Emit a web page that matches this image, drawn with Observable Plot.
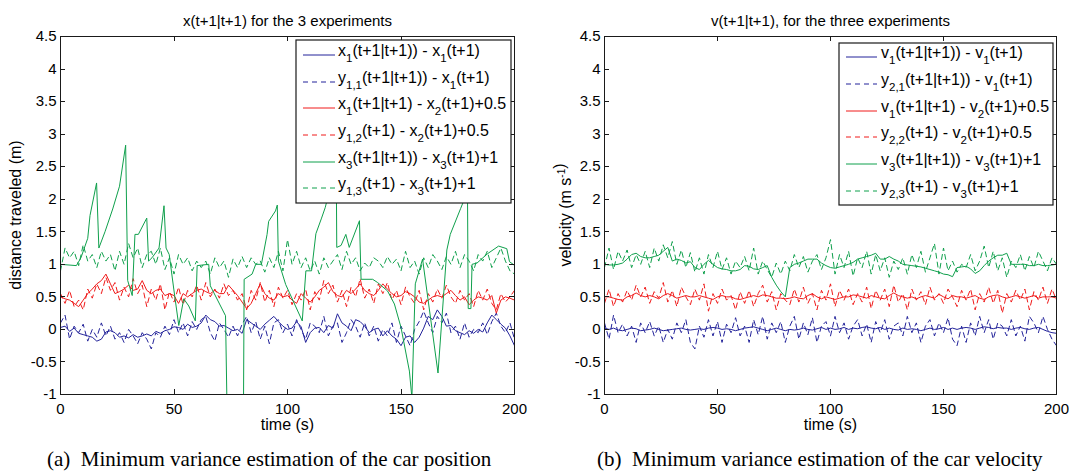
<!DOCTYPE html>
<html>
<head>
<meta charset="utf-8">
<script src="https://cdn.jsdelivr.net/npm/d3@7"></script>
<script src="https://cdn.jsdelivr.net/npm/@observablehq/plot@0.6"></script>
<style>
  html, body { margin: 0; padding: 0; background: #fff; }
  body { width: 1069px; height: 475px; position: relative; overflow: hidden; font-family: "Liberation Sans", Arial, sans-serif; }
  .panel { position: absolute; top: 0; }
  .cap { position: absolute; top: 449px; font-family: "Liberation Serif", "Times New Roman", serif; font-size: 21px; line-height: 1; white-space: nowrap; color: #000; }
</style>
</head>
<body>
<div id="panelA" class="panel" style="left:0px"></div>
<div id="panelB" class="panel" style="left:534px"></div>
<div class="cap" style="left:47px">(a)&nbsp; Minimum variance estimation of the car position</div>
<div class="cap" style="left:597px">(b)&nbsp; Minimum variance estimation of the car velocity</div>
<script>
// ---------------- data ----------------
const time = d3.range(0, 201, 2);            // sample times (s)
const xTicks = [0, 50, 100, 150, 200];
const yTicks = [-1, -0.5, 0, 0.5, 1, 1.5, 2, 2.5, 3, 3.5, 4, 4.5];

// (a) position, experiment 1 (estimate, solid blue)
const posX1 = [
  0.03, 0.05, -0.03, 0.02, -0.06, -0.08, -0.10, -0.12, -0.18, -0.15,
  -0.04, -0.02, -0.05, -0.12, -0.10, -0.13, -0.08, -0.12, -0.10, -0.07,
  -0.10, -0.03, -0.06, -0.02, 0.00, 0.04, 0.03, 0.00, 0.08, 0.03,
  0.05, 0.10, 0.22, 0.15, 0.12, 0.05, 0.06, 0.02, -0.02, 0.00,
  -0.06, 0.15, 0.10, 0.05, 0.00, 0.08, 0.14, 0.20, 0.12, 0.05,
  0.00, 0.02, 0.12, 0.04, -0.20, -0.05, 0.02, 0.03, -0.05, 0.06,
  0.02, 0.24, 0.10, 0.05, -0.02, 0.15, 0.12, 0.05, -0.05, 0.00,
  0.02, -0.10, -0.02, -0.10, -0.15, -0.25, -0.12, -0.10, -0.20, -0.12,
  0.02, 0.20, 0.15, 0.30, 0.20, 0.05, 0.06, -0.02, -0.05, -0.08,
  -0.02, -0.06, 0.00, -0.04, 0.10, 0.22, 0.15, 0.08, 0.02, -0.10,
  -0.25];
// (a) measurement y11 (dashed blue)
const posY11 = [
  0.10, 0.22, -0.15, 0.05, -0.05, 0.08, -0.18, 0.00, -0.12, 0.10,
  -0.10, 0.05, -0.15, -0.05, -0.20, 0.00, -0.10, -0.22, -0.05, -0.15,
  -0.30, -0.05, -0.12, 0.05, -0.08, 0.15, -0.05, 0.10, -0.10, 0.12,
  0.00, 0.15, 0.20, -0.05, -0.18, 0.10, 0.00, -0.12, 0.05, -0.10,
  0.08, 0.20, -0.05, 0.12, -0.15, 0.05, -0.22, 0.10, 0.15, -0.05,
  0.08, -0.10, 0.15, 0.00, -0.15, 0.10, 0.05, -0.05, 0.20, -0.10,
  0.05, 0.10, -0.20, -0.05, 0.15, 0.05, -0.12, 0.10, -0.10, 0.05,
  -0.18, 0.00, -0.10, 0.10, -0.20, 0.05, -0.10, -0.25, 0.00, 0.12,
  0.28, 0.10, -0.05, 0.20, 0.10, 0.25, -0.05, 0.05, -0.15, 0.10,
  -0.12, 0.00, -0.05, 0.10, -0.08, 0.12, 0.25, 0.05, -0.05, 0.10,
  -0.15];
// (a) experiment 2 estimate + 0.5 (solid red)
const posX2 = [
  0.50, 0.47, 0.45, 0.40, 0.35, 0.45, 0.55, 0.62, 0.70, 0.75,
  0.85, 0.70, 0.55, 0.58, 0.62, 0.68, 0.60, 0.62, 0.75, 0.60,
  0.55, 0.60, 0.62, 0.52, 0.55, 0.52, 0.40, 0.55, 0.50, 0.55,
  0.60, 0.62, 0.58, 0.55, 0.60, 0.55, 0.55, 0.68, 0.60, 0.52,
  0.42, 0.32, 0.40, 0.55, 0.70, 0.55, 0.48, 0.45, 0.55, 0.50,
  0.52, 0.45, 0.40, 0.55, 0.48, 0.42, 0.50, 0.60, 0.65, 0.72,
  0.58, 0.52, 0.50, 0.60, 0.55, 0.62, 0.70, 0.60, 0.55, 0.52,
  0.60, 0.70, 0.62, 0.55, 0.50, 0.52, 0.58, 0.55, 0.50, 0.42,
  0.40, 0.45, 0.50, 0.52, 0.50, 0.55, 0.60, 0.52, 0.45, 0.50,
  0.38, 0.45, 0.50, 0.48, 0.45, 0.52, 0.25, 0.45, 0.50, 0.48,
  0.45];
// (a) measurement y12 + 0.5 (dashed red)
const posY12 = [
  0.55, 0.40, 0.60, 0.35, 0.45, 0.30, 0.62, 0.48, 0.70, 0.55,
  0.80, 0.60, 0.72, 0.45, 0.65, 0.50, 0.78, 0.55, 0.68, 0.35,
  0.62, 0.45, 0.70, 0.30, 0.58, 0.42, 0.65, 0.38, 0.60, 0.50,
  0.68, 0.45, 0.72, 0.50, 0.62, 0.48, 0.70, 0.52, 0.60, 0.45,
  0.55, 0.30, 0.60, 0.45, 0.72, 0.42, 0.60, 0.35, 0.65, 0.48,
  0.60, 0.38, 0.55, 0.45, 0.62, 0.30, 0.58, 0.45, 0.75, 0.55,
  0.68, 0.42, 0.60, 0.35, 0.65, 0.50, 0.78, 0.48, 0.62, 0.40,
  0.70, 0.55, 0.72, 0.45, 0.60, 0.38, 0.65, 0.50, 0.40, 0.60,
  0.30, 0.55, 0.42, 0.62, 0.48, 0.68, 0.50, 0.40, 0.60, 0.45,
  0.55, 0.35, 0.60, 0.45, 0.62, 0.40, 0.30, 0.55, 0.42, 0.50,
  0.60];
// (a) experiment 3 estimate + 1 (solid green), vertices at their own times
const posX3Time = [0, 7, 9, 10.5, 12, 13, 15.9, 16.9, 19.6, 23, 26, 28.7, 29.6, 31.6, 32.8, 34.3, 38, 38.8, 40.3, 43.4,
  45.6, 46.5, 47.9, 49.9, 52.1, 54.3, 56.5, 59.4, 60.2, 65.3, 66, 72.7, 73.4, 80.6, 80.9, 84.4, 86, 88.5, 91, 91.7,
  94.7, 95.5, 96, 99.2, 106.5, 108.1, 110.6, 112.5, 115, 116.6, 119, 121.5, 121.7, 123.6, 125.7, 127.2, 131.7, 132.4, 137.5, 139.7,
  144.1, 147.1, 150, 153.7, 154.8, 156.3, 159.5, 166.3, 170.2, 171.7, 176.3, 178.5, 179.3, 179.6, 180.8, 181.3, 183.5, 188, 193, 196.6,
  197.8, 199.4, 200];
const posX3 = [1.0, 0.98, 1.1, 1.25, 1.4, 1.75, 2.25, 1.25, 1.5, 1.85, 2.2, 2.83, 0.75, 0.52, 1.46, 1.46, 1.71, 1.05, 1.1, 1.25,
  1.9, 1.25, 1.15, 0.62, 0.06, 0.47, 0.36, 0.13, 0.98, 1.0, 0.67, 0.21, -1.3, -1.3, 0.77, 0.85, 1.0, 1.0, 1.46, 1.66,
  1.82, 1.91, 1.05, 0.69, 0.13, 0.9, 0.9, 1.47, 1.71, 1.87, 2.2, 2.4, 1.26, 1.29, 1.46, 1.26, 1.67, 0.77, 0.77, 0.72,
  0.59, 0.39, 0.03, -0.64, -1.05, 0.7, 1.08, -0.67, 1.22, 1.46, 1.86, 2.05, 2.1, 0.32, 0.32, 1.0, 1.02, 1.16, 1.28, 1.24,
  1.04, 1.0, 0.98];
// (a) measurement y13 + 1 (dashed green)
const posY13 = [
  0.90, 1.25, 1.10, 1.20, 0.98, 1.30, 1.05, 1.15, 0.95, 1.20,
  1.05, 1.15, 0.90, 1.20, 1.00, 1.32, 1.10, 1.25, 0.95, 1.15,
  1.20, 1.00, 1.25, 0.92, 1.10, 0.85, 1.15, 1.00, 1.10, 0.90,
  1.05, 0.95, 1.05, 0.85, 1.10, 0.95, 1.05, 0.80, 1.08, 0.95,
  1.12, 0.95, 1.10, 1.00, 1.05, 0.88, 1.10, 0.95, 1.20, 0.90,
  1.38, 1.00, 1.20, 0.95, 1.10, 0.90, 1.05, 0.85, 1.10, 0.95,
  1.05, 1.15, 0.92, 1.20, 1.00, 1.10, 0.90, 1.02, 0.95, 1.10,
  1.05, 0.95, 1.12, 1.00, 1.08, 0.90, 1.20, 0.95, 1.05, 0.85,
  1.10, 0.95, 1.15, 1.05, 0.92, 1.12, 1.00, 1.20, 0.95, 1.15,
  1.05, 0.90, 1.15, 1.05, 1.20, 0.95, 1.10, 1.25, 1.05, 0.90,
  0.85];

// (b) velocity, experiment 1 estimate (solid blue)
const velV1 = [
  0.02, 0.00, 0.02, -0.01, -0.02, 0.00, 0.02, 0.01, -0.02, -0.01,
  0.00, 0.02, 0.00, -0.02, -0.01, 0.00, 0.01, 0.02, 0.00, -0.01,
  0.00, 0.01, 0.00, 0.02, 0.03, 0.02, 0.00, 0.01, 0.00, -0.02,
  0.00, 0.02, 0.03, 0.04, 0.02, 0.00, -0.02, 0.00, 0.02, 0.00,
  -0.02, 0.00, -0.01, 0.00, 0.02, 0.00, -0.01, 0.01, 0.03, 0.00,
  0.02, 0.00, 0.01, 0.03, 0.00, 0.02, 0.01, 0.03, 0.04, 0.02,
  0.01, 0.03, 0.00, 0.02, 0.00, -0.01, 0.02, 0.00, 0.01, 0.00,
  -0.02, 0.00, 0.02, 0.00, 0.01, 0.03, 0.00, 0.02, 0.00, 0.02,
  0.03, 0.02, 0.00, 0.02, 0.04, 0.03, 0.01, 0.03, 0.02, 0.02,
  0.00, 0.02, 0.03, 0.01, 0.00, 0.02, 0.03, 0.00, -0.03, -0.05,
  -0.06];
// (b) measurement y21 (dashed blue)
const velY21 = [
  0.10, -0.15, 0.22, -0.05, 0.08, -0.10, 0.05, -0.20, 0.10, -0.05,
  0.12, -0.10, 0.05, -0.20, 0.00, -0.15, 0.10, -0.05, 0.15, -0.20,
  -0.30, 0.05, -0.12, 0.15, -0.10, 0.12, -0.20, 0.08, -0.05, 0.18,
  -0.10, 0.05, -0.20, 0.15, -0.08, 0.20, -0.15, 0.10, -0.05, 0.12,
  -0.20, 0.05, 0.20, -0.15, 0.10, -0.08, 0.18, -0.20, 0.05, 0.12,
  -0.10, 0.20, -0.05, 0.10, -0.15, 0.05, 0.15, -0.10, 0.08, -0.20,
  0.12, -0.05, 0.15, -0.15, 0.05, 0.10, -0.10, 0.20, -0.05, 0.10,
  -0.20, 0.05, 0.15, -0.10, 0.10, -0.05, 0.18, -0.15, -0.25, 0.05,
  -0.20, 0.10, -0.10, 0.20, -0.05, 0.15, -0.15, 0.10, 0.05, -0.10,
  0.15, -0.10, 0.05, -0.18, 0.20, 0.10, -0.05, 0.20, 0.00, -0.15,
  -0.25];
// (b) experiment 2 estimate + 0.5 (solid red)
const velV2 = [
  0.50, 0.50, 0.48, 0.46, 0.45, 0.50, 0.52, 0.56, 0.52, 0.50,
  0.52, 0.50, 0.47, 0.52, 0.55, 0.52, 0.48, 0.50, 0.52, 0.50,
  0.50, 0.52, 0.50, 0.48, 0.46, 0.50, 0.52, 0.50, 0.50, 0.47,
  0.46, 0.48, 0.50, 0.52, 0.50, 0.53, 0.52, 0.50, 0.48, 0.48,
  0.47, 0.48, 0.50, 0.48, 0.47, 0.52, 0.55, 0.50, 0.47, 0.50,
  0.48, 0.46, 0.48, 0.50, 0.50, 0.53, 0.52, 0.50, 0.48, 0.52,
  0.50, 0.48, 0.47, 0.52, 0.56, 0.52, 0.50, 0.48, 0.50, 0.47,
  0.50, 0.52, 0.50, 0.48, 0.54, 0.50, 0.47, 0.52, 0.50, 0.50,
  0.48, 0.50, 0.52, 0.48, 0.46, 0.50, 0.52, 0.53, 0.50, 0.48,
  0.50, 0.52, 0.50, 0.48, 0.50, 0.52, 0.48, 0.50, 0.50, 0.50,
  0.48];
// (b) measurement y22 + 0.5 (dashed red)
const velY22 = [
  0.40, 0.62, 0.35, 0.55, 0.42, 0.60, 0.45, 0.68, 0.50, 0.65,
  0.40, 0.58, 0.48, 0.72, 0.42, 0.60, 0.35, 0.65, 0.50, 0.38,
  0.62, 0.45, 0.70, 0.28, 0.55, 0.40, 0.62, 0.45, 0.52, 0.30,
  0.58, 0.40, 0.60, 0.35, 0.55, 0.68, 0.42, 0.58, 0.30, 0.55,
  0.45, 0.38, 0.62, 0.42, 0.65, 0.40, 0.55, 0.30, 0.60, 0.45,
  0.70, 0.35, 0.60, 0.45, 0.62, 0.38, 0.55, 0.42, 0.65, 0.32,
  0.60, 0.45, 0.62, 0.35, 0.68, 0.42, 0.55, 0.30, 0.62, 0.45,
  0.58, 0.38, 0.65, 0.45, 0.55, 0.40, 0.62, 0.50, 0.35, 0.60,
  0.45, 0.62, 0.30, 0.55, 0.42, 0.65, 0.40, 0.60, 0.25, 0.55,
  0.42, 0.60, 0.45, 0.62, 0.30, 0.58, 0.45, 0.65, 0.40, 0.62,
  0.45];
// (b) experiment 3 estimate + 1 (solid green)
const velV3 = [
  1.00, 0.99, 0.99, 1.00, 1.02, 1.08, 1.15, 1.17, 1.12, 1.10,
  1.10, 1.12, 1.14, 1.20, 1.26, 1.05, 1.08, 1.06, 1.02, 1.04,
  0.95, 0.92, 1.00, 1.06, 1.00, 0.95, 0.93, 0.92, 0.90, 0.90,
  0.92, 0.98, 0.97, 0.93, 0.92, 0.95, 0.98, 0.80, 0.68, 0.58,
  0.50, 0.95, 1.00, 1.02, 1.05, 1.08, 1.08, 1.08, 1.02, 0.98,
  0.95, 0.94, 0.96, 0.98, 1.00, 1.03, 1.08, 1.10, 1.12, 1.14,
  1.17, 1.08, 1.08, 1.12, 1.08, 1.05, 1.00, 0.99, 0.98, 0.97,
  0.96, 0.94, 0.92, 0.90, 0.88, 0.85, 0.84, 0.81, 0.95, 0.96,
  0.97, 0.93, 0.86, 0.90, 0.98, 1.05, 1.10, 1.14, 1.14, 1.17,
  1.00, 1.00, 1.00, 1.00, 0.98, 0.98, 1.00, 0.98, 0.98, 0.99,
  1.00];
// (b) measurement y23 + 1 (dashed green)
const velY23 = [
  0.95, 1.25, 0.92, 1.20, 1.05, 1.22, 0.95, 1.15, 1.00, 1.20,
  0.95, 1.25, 1.05, 1.30, 1.10, 1.35, 1.00, 1.22, 0.95, 1.18,
  0.88, 1.10, 0.85, 1.15, 0.95, 1.20, 0.92, 1.10, 0.85, 1.05,
  0.95, 1.12, 0.90, 1.25, 0.85, 1.05, 0.92, 0.80, 1.02, 0.85,
  1.05, 0.90, 1.15, 0.95, 1.12, 0.88, 1.05, 1.15, 0.92, 1.10,
  1.38, 0.85, 1.15, 0.95, 1.20, 0.82, 1.10, 0.95, 1.20, 0.85,
  1.15, 0.90, 1.10, 0.80, 1.05, 0.92, 1.10, 0.85, 1.15, 0.95,
  1.20, 0.88, 1.10, 1.32, 0.85, 1.25, 0.90, 1.05, 0.88, 1.00,
  0.95, 1.15, 0.90, 1.05, 1.28, 0.95, 1.20, 0.90, 1.10, 0.80,
  1.05, 0.95, 1.15, 0.90, 1.12, 0.95, 1.20, 1.05, 0.90, 1.10,
  1.00];

const legendA = [
  "x{1}(t+1|t+1)) - x{1}(t+1)",
  "y{1,1}(t+1|t+1)) - x{1}(t+1)",
  "x{1}(t+1|t+1) - x{2}(t+1)+0.5",
  "y{1,2}(t+1) - x{2}(t+1)+0.5",
  "x{3}(t+1|t+1)) - x{3}(t+1)+1",
  "y{1,3}(t+1) - x{3}(t+1)+1"
];
const legendB = [
  "v{1}(t+1|t+1)) - v{1}(t+1)",
  "y{2,1}(t+1|t+1)) - v{1}(t+1)",
  "v{1}(t+1|t+1) - v{2}(t+1)+0.5",
  "y{2,2}(t+1) - v{2}(t+1)+0.5",
  "v{3}(t+1|t+1)) - v{3}(t+1)+1",
  "y{2,3}(t+1) - v{3}(t+1)+1"
];

// ---------------- styling ----------------
const BLUE = "#23239a", RED = "#f01a1a", GREEN = "#0fa04c";
const DASH = "5,4";
const FONT = "'Liberation Sans', Arial, Helvetica, sans-serif";

function addRichText(sel, spec, size) {
  // spec uses {..} for subscript segments
  const parts = spec.split(/(\{[^}]*\})/).filter(p => p.length);
  let shifted = false;
  parts.forEach(p => {
    const sub = p.startsWith("{");
    const ts = sel.append("tspan").text(sub ? p.slice(1, -1) : p);
    if (sub) { ts.attr("font-size", size * 0.72).attr("dy", size * 0.38); shifted = true; }
    else if (shifted) { ts.attr("dy", -size * 0.38); shifted = false; }
  });
}

function panel(cfg) {
  const chart = Plot.plot({
    width: cfg.width, height: 440,
    marginLeft: cfg.ml, marginRight: cfg.mr, marginTop: 36, marginBottom: 46,
    x: {domain: [0, 200]},
    y: {domain: [-1, 4.5]},
    style: {fontFamily: FONT, fontSize: "15px", color: "#000", background: "#fff", overflow: "visible"},
    marks: [
      ...cfg.series.map(s => Plot.line(s.y, {
        x: s.x, y: s.y, stroke: s.color, strokeWidth: 1,
        strokeDasharray: s.dash ? DASH : null, clip: true, curve: "linear"
      })),
      Plot.frame({stroke: "#1a1a1a", strokeWidth: 1}),
      Plot.axisX({ticks: xTicks, tickSize: 0, tickPadding: 9, tickFormat: d => String(d), label: null, fontSize: 15}),
      Plot.axisY({ticks: yTicks, tickSize: 0, tickPadding: 4, tickFormat: d => String(d), label: null, fontSize: 15}),
      Plot.text([cfg.title], {text: d => d, frameAnchor: "top", dy: -21, fontSize: 15}),
      Plot.text(["time (s)"], {text: d => d, frameAnchor: "bottom", dy: 35, fontSize: 16})
    ]
  });
  document.getElementById(cfg.el).append(chart);

  const svg = d3.select(chart);
  const sx = chart.scale("x"), sy = chart.scale("y");
  const [xl, xr] = sx.range, [yb, yt] = sy.range;
  const tk = svg.append("g").attr("stroke", "#1a1a1a").attr("stroke-width", 1);
  xTicks.forEach(t => {
    const px = Math.round(sx.apply(t)) + 0.5;
    tk.append("line").attr("x1", px).attr("x2", px).attr("y1", yb).attr("y2", yb - 5);
    tk.append("line").attr("x1", px).attr("x2", px).attr("y1", yt).attr("y2", yt + 5);
  });
  yTicks.forEach(v => {
    const py = Math.round(sy.apply(v)) + 0.5;
    tk.append("line").attr("y1", py).attr("y2", py).attr("x1", xl).attr("x2", xl + 5);
    tk.append("line").attr("y1", py).attr("y2", py).attr("x1", xr).attr("x2", xr - 5);
  });

  // y label
  const yl = svg.append("text")
    .attr("transform", `translate(${cfg.ylx},${(yb + yt) / 2}) rotate(-90)`)
    .attr("text-anchor", "middle").attr("font-size", 16).attr("font-family", FONT).attr("fill", "#000");
  cfg.ylabel.forEach(([txt, sup]) => {
    const ts = yl.append("tspan").text(txt);
    if (sup) ts.attr("font-size", 10).attr("dy", -6);
  });

  // legend
  const L = cfg.legend;
  const lg = svg.append("g").attr("font-family", FONT).attr("font-size", 16).attr("text-anchor", "start");
  lg.append("rect").attr("x", L.x).attr("y", L.y).attr("width", L.w).attr("height", L.h)
    .attr("fill", "#fff").attr("stroke", "#1a1a1a").attr("stroke-width", 1.2);
  cfg.series.forEach((s, i) => {
    const ry = L.rows[i];
    lg.append("line").attr("x1", L.lx1).attr("x2", L.lx2).attr("y1", ry).attr("y2", ry)
      .attr("stroke", s.color).attr("stroke-width", 1).attr("stroke-dasharray", s.dash ? DASH : null);
    const t = lg.append("text").attr("x", L.tx).attr("y", ry + 1).attr("fill", "#000").attr("text-anchor", "start");
    addRichText(t, cfg.labels[i], 16);
  });
}

panel({
  el: "panelA", width: 534, ml: 60, mr: 20,
  title: "x(t+1|t+1) for the 3 experiments",
  ylabel: [["distance traveled (m)", false]], ylx: 21,
  labels: legendA,
  series: [
    {x: time, y: posX1, color: BLUE, dash: false},
    {x: time, y: posY11, color: BLUE, dash: true},
    {x: time, y: posX2, color: RED, dash: false},
    {x: time, y: posY12, color: RED, dash: true},
    {x: posX3Time, y: posX3, color: GREEN, dash: false},
    {x: time, y: posY13, color: GREEN, dash: true}
  ],
  legend: {x: 296, y: 40, w: 215, h: 163, lx1: 303, lx2: 335, tx: 338, rows: [55, 82, 108, 135, 162, 188]}
});

panel({
  el: "panelB", width: 535, ml: 70, mr: 13,
  title: "v(t+1|t+1), for the three experiments",
  ylabel: [["velocity (m s", false], ["-1", true], [")", false]], ylx: 37,
  labels: legendB,
  series: [
    {x: time, y: velV1, color: BLUE, dash: false},
    {x: time, y: velY21, color: BLUE, dash: true},
    {x: time, y: velV2, color: RED, dash: false},
    {x: time, y: velY22, color: RED, dash: true},
    {x: time, y: velV3, color: GREEN, dash: false},
    {x: time, y: velY23, color: GREEN, dash: true}
  ],
  legend: {x: 305, y: 43, w: 214, h: 162, lx1: 312, lx2: 343, tx: 347, rows: [57, 84, 111, 137, 164, 191]}
});
</script>
</body>
</html>
